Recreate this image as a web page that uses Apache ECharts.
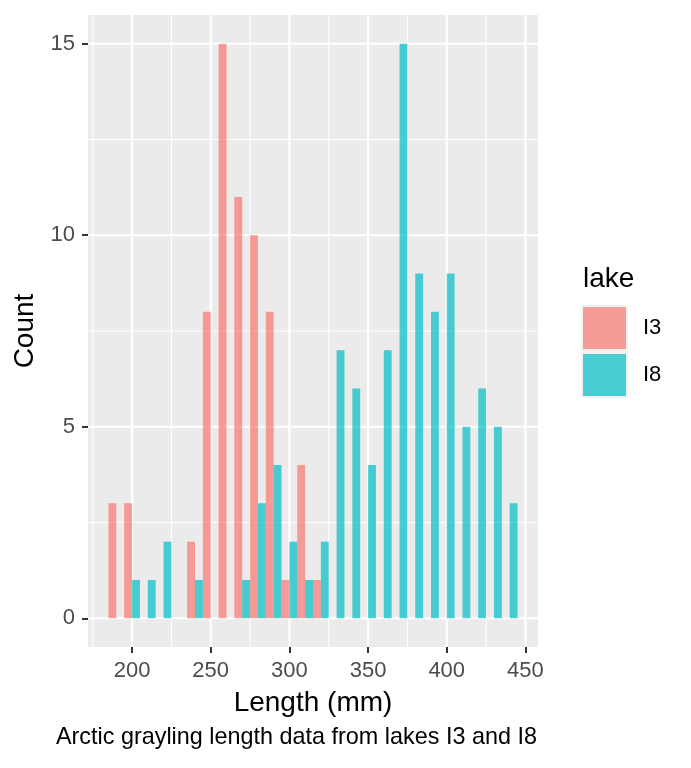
<!DOCTYPE html>
<html>
<head>
<meta charset="utf-8">
<title>Arctic grayling length</title>
<script src="https://cdn.jsdelivr.net/npm/echarts@6/dist/echarts.min.js"></script>
<style>
  html,body{margin:0;padding:0;background:#fff;}
  #main{width:691px;height:768px;}
</style>
</head>
<body>
<div id="main"></div>
<script>
// bin centres (mm), bin width 10
var bins=[190,200,210,220,230,240,250,260,270,280,290,300,310,320,330,340,350,360,370,380,390,400,410,420,430,440];
var countI3=[3,3,0,0,0,2,8,15,11,10,8,1,4,1,0,0,0,0,0,0,0,0,0,0,0,0];
var countI8=[0,1,1,2,0,1,0,0,1,3,4,2,1,2,7,6,4,7,15,9,8,9,5,6,5,3];
var lakes=['I3','I8'];
var xTicks=[200,250,300,350,400,450];
var xMinor=[175,225,275,325,375,425];
var yTicks=[0,5,10,15];
var yMinor=[2.5,7.5,12.5];

var binWidth=10;
var xMin=172,xMax=458,yMin=-0.75,yMax=15.75;
var font="'Liberation Sans', Arial, sans-serif";

var myChart=echarts.init(document.getElementById('main'));

// grid lines: [value, major?, 0=vertical/1=horizontal]
var gridData=[];
xMinor.forEach(function(v){gridData.push([v,0,0]);});
yMinor.forEach(function(v){gridData.push([v,0,1]);});
xTicks.forEach(function(v){gridData.push([v,1,0]);});
yTicks.forEach(function(v){gridData.push([v,1,1]);});

function gridItem(params,api){
  var v=api.value(0),major=api.value(1),dir=api.value(2);
  var p0,p1;
  if(dir==0){
    p0=api.coord([v,yMin]);p1=api.coord([v,yMax]);
  }else{
    p0=api.coord([xMin,v]);p1=api.coord([xMax,v]);
  }
  return {type:'line',shape:{x1:p0[0],y1:p0[1],x2:p1[0],y2:p1[1]},
    style:{stroke:'#ffffff',lineWidth:major?2.1:1.05}};
}

function barRender(side){
  return function(params,api){
    var c=api.value(0),n=api.value(1);
    if(!n) return null;
    var x0=side==0?c-binWidth/2:c;
    var p0=api.coord([x0,0]);
    var p1=api.coord([x0+binWidth/2,n]);
    return {type:'rect',shape:{x:p0[0],y:p1[1],width:p1[0]-p0[0],height:p0[1]-p1[1]},
      style:{fill:api.visual('color')}};
  };
}

function pairs(vals){
  var d=[];
  for(var i=0;i<bins.length;i++) d.push([bins[i],vals[i]]);
  return d;
}

var option={
  animation:false,
  textStyle:{fontFamily:font},
  grid:{left:88,right:153,top:15,bottom:121,show:true,backgroundColor:'#EBEBEB',borderWidth:0},
  xAxis:{
    type:'value',min:xMin,max:xMax,
    name:'Length (mm)',nameLocation:'middle',nameGap:42,
    nameTextStyle:{fontSize:28,color:'#000',fontFamily:font},
    axisLine:{show:false,onZero:false},
    axisTick:{show:true,length:6,customValues:xTicks,lineStyle:{color:'#333333',width:2}},
    axisLabel:{customValues:xTicks,fontSize:22,color:'#4D4D4D',margin:13,fontFamily:font},
    splitLine:{show:false}
  },
  yAxis:{
    type:'value',min:yMin,max:yMax,
    name:'Count',nameLocation:'middle',nameGap:46,
    nameTextStyle:{fontSize:28,color:'#000',fontFamily:font},
    axisLine:{show:false,onZero:false},
    axisTick:{show:true,length:6,customValues:yTicks,lineStyle:{color:'#333333',width:2}},
    axisLabel:{customValues:yTicks,fontSize:22,color:'#4D4D4D',margin:13,fontFamily:font},
    splitLine:{show:false}
  },
  legend:{
    orient:'vertical',left:578,top:302,itemWidth:43,itemHeight:42,itemGap:5,
    selectedMode:false,
    data:[{name:lakes[0],icon:'rect'},{name:lakes[1],icon:'rect'}],
    textStyle:{fontSize:22,color:'#000',fontFamily:font,padding:[0,0,0,12]}
  },
  graphic:[
    {type:'rect',left:581,top:305,z:-1,shape:{width:47,height:93},style:{fill:'#F2F2F2'}},
    {type:'text',left:583,top:265,style:{text:'lake',fontSize:28,fill:'#000',fontFamily:font}},
    {type:'text',right:154,top:726,style:{text:'Arctic grayling length data from lakes I3 and I8',fontSize:23.4,fill:'#000',fontFamily:font}}
  ],
  series:[
    {type:'custom',name:'grid',silent:true,z:1,renderItem:gridItem,data:gridData},
    {type:'custom',name:lakes[0],z:2,itemStyle:{color:'rgba(248,118,109,0.7)'},renderItem:barRender(0),data:pairs(countI3)},
    {type:'custom',name:lakes[1],z:2,itemStyle:{color:'rgba(0,191,196,0.7)'},renderItem:barRender(1),data:pairs(countI8)}
  ]
};
myChart.setOption(option);
</script>
</body>
</html>
